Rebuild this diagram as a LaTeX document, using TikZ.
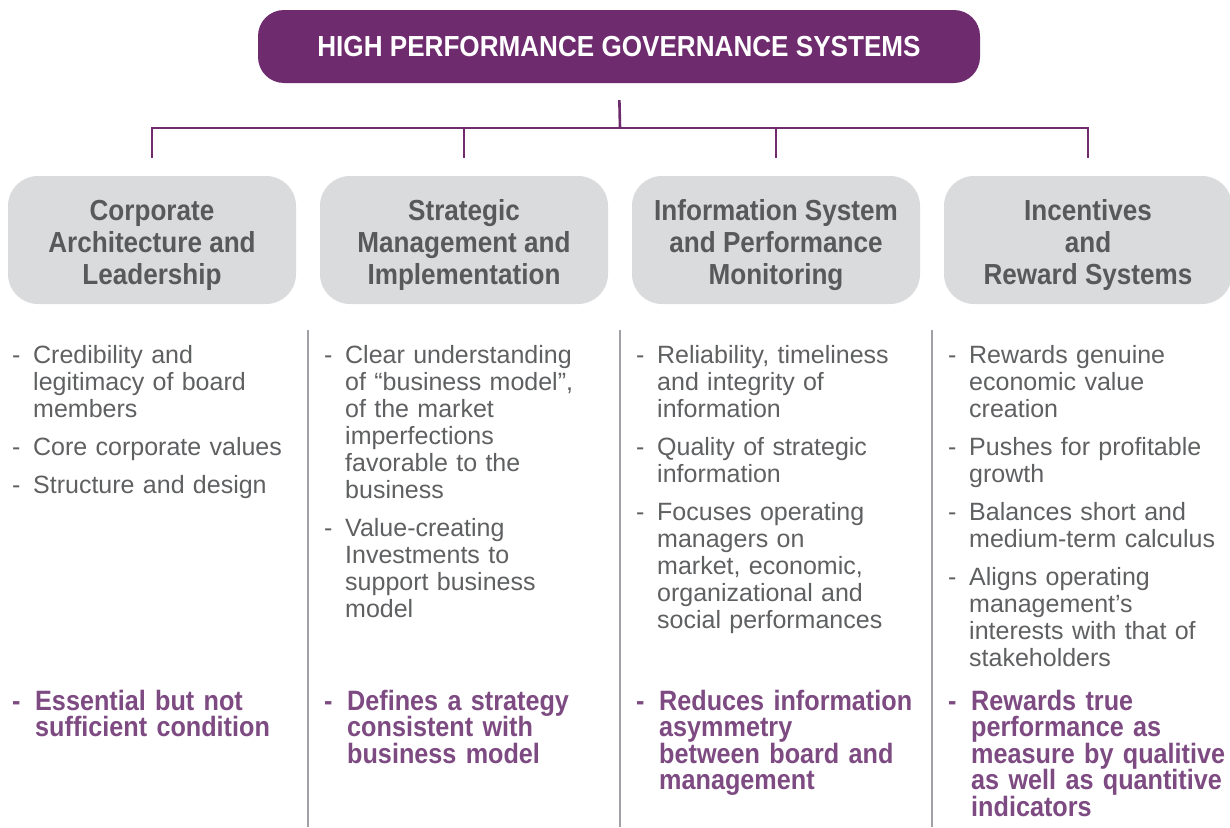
\documentclass[tikz,border=0pt]{standalone}
\usepackage{fontspec}
\setmainfont{Liberation Sans}
\newfontfamily\condfont[FakeStretch=0.9]{Liberation Sans}
\definecolor{plum}{RGB}{110,44,110}
\definecolor{plumtext}{RGB}{125,74,130}
\definecolor{boxgray}{RGB}{218,219,220}
\definecolor{headgray}{RGB}{88,89,91}
\definecolor{bodygray}{RGB}{95,96,98}
\definecolor{rulegray}{RGB}{160,162,165}
\tikzset{
  topbox/.style={rounded corners=26pt,fill=plum,text=white,minimum width=722pt,minimum height=73pt,font=\condfont\bfseries\fontsize{29}{32}\selectfont},
  catbox/.style={rounded corners=30pt,fill=boxgray,text=headgray,minimum width=288pt,minimum height=128pt,align=center,
    font=\condfont\bfseries\fontsize{29}{32}\selectfont},
  link/.style={line width=2.6pt,draw=plum},
  colrule/.style={line width=1.4pt,draw=rulegray},
  pointlist/.style={anchor=base west,inner sep=0pt,text width=300pt,align=left,text=bodygray,
    font=\fontsize{25}{27}\selectfont,execute at begin node={\setlength{\parskip}{11pt}}},
  keylist/.style={anchor=base west,inner sep=0pt,text width=300pt,align=left,text=plumtext,
    font=\condfont\bfseries\fontsize{28}{26.6}\selectfont}
}
% one dashed point, lines broken with \\ and hung under the text
\newcommand{\dashitem}[2][21pt]{{\let\\\newline\hangindent=#1\hangafter=1\noindent\makebox[#1][l]{-}#2\par}}
% tall first line so the pillar titles sit a bit lower
\newcommand{\capstrut}{\rule{0pt}{31pt}}

\begin{document}
\begin{tikzpicture}[x=1pt,y=-1pt]
  \fill[white] (0,0) rectangle (1230,827);
  \useasboundingbox (0,0) rectangle (1230,827);
  % head and the four pillars
  \node[topbox] (hps) at (619,46.5) {HIGH PERFORMANCE GOVERNANCE SYSTEMS};
  \node[catbox] (cat1) at (152,240) {\capstrut Corporate\\Architecture and\\Leadership};
  \node[catbox] (cat2) at (464,240) {\capstrut Strategic\\Management and\\Implementation};
  \node[catbox] (cat3) at (776,240) {\capstrut Information System\\and Performance\\Monitoring};
  \node[catbox] (cat4) at (1088,240) {\capstrut Incentives\\and\\Reward Systems};
  \coordinate (hub) at (620,128);
  \draw[link,shorten <=17pt] (hps.south) -- (hub);
  \foreach \i in {1,...,4} \draw[link,shorten >=18pt] (hub) -| (cat\i.north);
  \foreach \x in {308,620,932} \draw[colrule] (\x,330) -- (\x,827);
  % points under each pillar
  \node[pointlist] (pts1) at (12,363) {\dashitem{Credibility and\\legitimacy of board\\members}\dashitem{Core corporate values}\dashitem{Structure and design}};
  \node[pointlist] (pts2) at (324,363) {\dashitem{Clear understanding\\of “business model”,\\of the market\\imperfections\\favorable to the\\business}\dashitem{Value-creating\\Investments to\\support business\\model}};
  \node[pointlist] (pts3) at (636,363) {\dashitem{Reliability, timeliness\\and integrity of\\information}\dashitem{Quality of strategic\\information}\dashitem{Focuses operating\\managers on\\market, economic,\\organizational and\\social performances}};
  \node[pointlist] (pts4) at (948,363) {\dashitem{Rewards genuine\\economic value\\creation}\dashitem{Pushes for profitable\\growth}\dashitem{Balances short and\\medium-term calculus}\dashitem{Aligns operating\\management’s\\interests with that of\\stakeholders}};
  % conclusions
  \node[keylist] (key1) at (12,710) {\dashitem[23pt]{Essential but not\\sufficient condition}};
  \node[keylist] (key2) at (324,710) {\dashitem[23pt]{Defines a strategy\\consistent with\\business model}};
  \node[keylist] (key3) at (636,710) {\dashitem[23pt]{Reduces information\\asymmetry\\between board and\\management}};
  \node[keylist] (key4) at (948,710) {\dashitem[23pt]{Rewards true\\performance as\\measure by qualitive\\as well as quantitive\\indicators}};
\end{tikzpicture}
\end{document}
